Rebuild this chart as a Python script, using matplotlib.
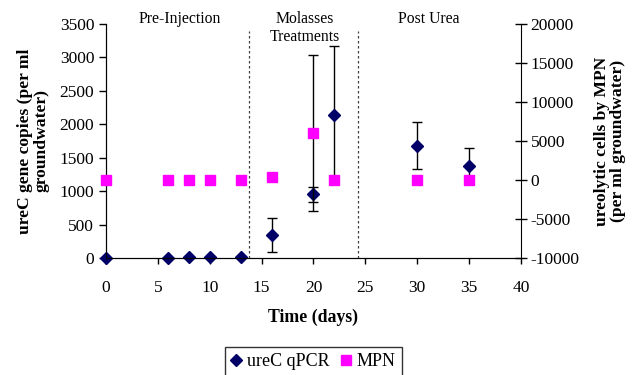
import numpy as np
import matplotlib
matplotlib.use("Agg")
from matplotlib import pyplot as plt

# sampling days
days = [0, 6, 8, 10, 13, 16, 20, 22, 30, 35]

# ureC gene copies by qPCR (per ml groundwater) and standard deviation
qpcr = [0, 5, 15, 15, 15, 345, 950, 2140, 1680, 1380]
qpcr_err = [0, 0, 0, 0, 0, 250, 110, 1030, 355, 270]

# ureolytic cells by MPN (per ml groundwater) and standard deviation
mpn = [0, 0, 0, 0, 0, 330, 6000, 0, 0, 0]
mpn_err = [0, 0, 0, 0, 0, 0, 10000, 0, 0, 0]

# phase boundaries (days) and phase labels
phase_bounds = [13.8, 24.3]
phase_labels = ["Pre-Injection", "Molasses\nTreatments", "Post Urea"]
phase_label_x = [7.1, 19.2, 31.1]

plt.rcParams['font.family'] = ['Liberation Serif', 'DejaVu Serif']
plt.rcParams['font.size'] = 12.5
plt.rcParams['axes.unicode_minus'] = False

fig = plt.figure(figsize=(6.33, 3.75), dpi=100)
ax1 = fig.add_axes([0.1675, 0.312, 0.6555, 0.624])
ax2 = ax1.twinx()

# phase separators
for xb in phase_bounds:
    ax1.axvline(xb, ymin=0, ymax=0.972, color='0.25', linestyle=(0, (2, 2)), linewidth=0.9)
for xl, txt in zip(phase_label_x, phase_labels):
    ax1.text(xl, 1.055, txt, ha='center', va='top', fontsize=11.3, linespacing=1.15,
             transform=ax1.get_xaxis_transform())

# qPCR series
days_a = np.array(days)
qpcr_a = np.array(qpcr)
qe = np.array(qpcr_err)
sel = qe > 0
ax1.errorbar(days_a[sel], qpcr_a[sel], yerr=qe[sel], fmt='none', ecolor='black',
             elinewidth=1.0, capsize=3.5, capthick=1.0, zorder=2)
ax1.plot(days, qpcr, 'D', color='#000066', markersize=6.5, linestyle='none',
         label='ureC qPCR', zorder=3, clip_on=False)

# MPN series
mpn_a = np.array(mpn)
me = np.array(mpn_err)
sel = me > 0
ax2.errorbar(days_a[sel], mpn_a[sel], yerr=me[sel], fmt='none', ecolor='black',
             elinewidth=1.0, capsize=3.5, capthick=1.0, zorder=2)
ax2.plot(days, mpn, 's', color='#FF00FF', markersize=7.5, linestyle='none',
         label='MPN', zorder=3, clip_on=False)

ax1.set_xlim(0, 40)
ax1.set_ylim(0, 3500)
ax2.set_ylim(-10000, 20000)
ax1.set_xticks(np.arange(0, 41, 5))
ax1.set_yticks(np.arange(0, 3501, 500))
ax2.set_yticks(np.arange(-10000, 20001, 5000))

for ax in (ax1, ax2):
    ax.spines['top'].set_visible(False)
    ax.patch.set_visible(False)
ax1.spines['right'].set_visible(False)
ax1.tick_params(axis='y', direction='out', length=5, width=1, labelsize=12.5, pad=3.5)
ax1.tick_params(axis='x', direction='out', length=4, width=1, labelsize=12.5, pad=12)
ax2.tick_params(axis='y', direction='inout', length=8, width=1, labelsize=12.5, pad=3)

ax1.set_xlabel('Time (days)', fontsize=12.8, fontweight='bold', labelpad=9)
ax1.set_ylabel('ureC gene copies (per ml\ngroundwater)', fontsize=12.6,
               fontweight='bold', labelpad=7, linespacing=1.05)
ax2.set_ylabel('ureolytic cells by MPN\n(per ml groundwater)', fontsize=12.6,
               fontweight='bold', labelpad=10, linespacing=1.05)

h1, l1 = ax1.get_legend_handles_labels()
h2, l2 = ax2.get_legend_handles_labels()
fig.legend(h1 + h2, l1 + l2, loc='upper center', bbox_to_anchor=(0.495, 0.075),
           borderaxespad=0, ncol=2, frameon=True, fancybox=False, edgecolor='black',
           fontsize=13, handlelength=0.6, handletextpad=0.3, columnspacing=0.6,
           borderpad=0.35)

fig.savefig('out.png', dpi=100)
